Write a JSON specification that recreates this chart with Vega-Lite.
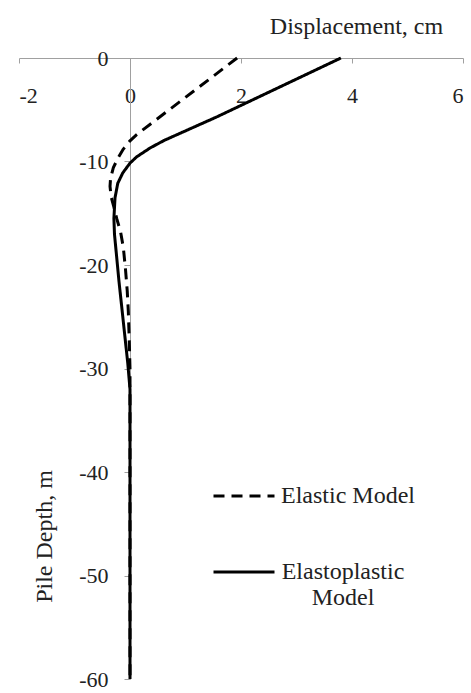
{
  "$schema": "https://vega.github.io/schema/vega-lite/v6.json",
  "width": 444,
  "height": 621,
  "autosize": {"type": "none"},
  "padding": {"left": 19, "top": 58, "right": 8, "bottom": 14},
  "background": "white",
  "config": {"view": {"stroke": null}, "font": "Liberation Serif"},
  "data": {
    "values": [
      {"model": "Elastic Model", "disp": 1.93, "depth": 0},
      {"model": "Elastic Model", "disp": 0.12, "depth": -7.4},
      {"model": "Elastic Model", "disp": 0.0, "depth": -8.0},
      {"model": "Elastic Model", "disp": -0.12, "depth": -8.8},
      {"model": "Elastic Model", "disp": -0.22, "depth": -9.7},
      {"model": "Elastic Model", "disp": -0.3, "depth": -10.6},
      {"model": "Elastic Model", "disp": -0.35, "depth": -11.6},
      {"model": "Elastic Model", "disp": -0.36, "depth": -12.4},
      {"model": "Elastic Model", "disp": -0.34, "depth": -13.4},
      {"model": "Elastic Model", "disp": -0.29, "depth": -14.4},
      {"model": "Elastic Model", "disp": -0.24, "depth": -15.5},
      {"model": "Elastic Model", "disp": -0.17, "depth": -16.8},
      {"model": "Elastic Model", "disp": -0.12, "depth": -18.3},
      {"model": "Elastic Model", "disp": -0.08, "depth": -20.5},
      {"model": "Elastic Model", "disp": -0.05, "depth": -22.5},
      {"model": "Elastic Model", "disp": -0.03, "depth": -24.5},
      {"model": "Elastic Model", "disp": -0.015, "depth": -27},
      {"model": "Elastic Model", "disp": 0.0, "depth": -30},
      {"model": "Elastic Model", "disp": 0.0, "depth": -60},
      {"model": "Elastoplastic Model", "disp": 3.8, "depth": 0},
      {"model": "Elastoplastic Model", "disp": 1.56, "depth": -5.7},
      {"model": "Elastoplastic Model", "disp": 0.95, "depth": -7.16},
      {"model": "Elastoplastic Model", "disp": 0.62, "depth": -7.95},
      {"model": "Elastoplastic Model", "disp": 0.36, "depth": -8.7},
      {"model": "Elastoplastic Model", "disp": 0.12, "depth": -9.55},
      {"model": "Elastoplastic Model", "disp": 0.0, "depth": -10.16},
      {"model": "Elastoplastic Model", "disp": -0.13, "depth": -11.1},
      {"model": "Elastoplastic Model", "disp": -0.22, "depth": -12.1},
      {"model": "Elastoplastic Model", "disp": -0.27, "depth": -13.5},
      {"model": "Elastoplastic Model", "disp": -0.29, "depth": -15.5},
      {"model": "Elastoplastic Model", "disp": -0.28, "depth": -17},
      {"model": "Elastoplastic Model", "disp": -0.2, "depth": -21.5},
      {"model": "Elastoplastic Model", "disp": -0.1, "depth": -26.5},
      {"model": "Elastoplastic Model", "disp": -0.04, "depth": -29.5},
      {"model": "Elastoplastic Model", "disp": 0.0, "depth": -32},
      {"model": "Elastoplastic Model", "disp": 0.0, "depth": -60}
    ]
  },
  "mark": {"type": "line", "color": "black", "strokeWidth": 3, "interpolate": "linear", "strokeJoin": "round"},
  "encoding": {
    "x": {
      "field": "disp", "type": "quantitative",
      "scale": {"domain": [-2, 6], "nice": false, "zero": false},
      "axis": {
        "orient": "bottom", "offset": -621,
        "values": [-2, 0, 2, 4, 6],
        "labelExpr": "toString(datum.value)",
        "grid": false,
        "domainColor": "#a0a0a0", "tickColor": "#a0a0a0", "tickSize": 5,
        "labelFontSize": 22, "labelColor": "#222", "labelPadding": 22,
        "labelFont": "Liberation Serif",
        "title": "Displacement, cm",
        "titleFont": "Liberation Serif", "titleFontSize": 24, "titleFontWeight": "normal",
        "titleColor": "#222",
        "titleAnchor": null, "titleAlign": "center", "titleBaseline": "alphabetic",
        "titleX": 337, "titleY": -25
      }
    },
    "y": {
      "field": "depth", "type": "quantitative",
      "scale": {"domain": [-60, 0], "nice": false, "zero": false},
      "axis": {
        "orient": "left", "offset": -111,
        "values": [0, -10, -20, -30, -40, -50, -60],
        "labelExpr": "toString(datum.value)",
        "grid": false,
        "domainColor": "#a0a0a0", "tickColor": "#a0a0a0", "tickSize": 6,
        "labelFontSize": 22, "labelColor": "#222", "labelPadding": 16,
        "labelFont": "Liberation Serif",
        "title": "Pile Depth, m",
        "titleFont": "Liberation Serif", "titleFontSize": 24, "titleFontWeight": "normal",
        "titleColor": "#222",
        "titleAngle": -90, "titleAlign": "center", "titleBaseline": "alphabetic",
        "titleX": -79, "titleY": 478
      }
    },
    "strokeDash": {
      "field": "model", "type": "nominal",
      "scale": {"domain": ["Elastic Model", "Elastoplastic Model"], "range": [[11, 7], [1, 0]]},
      "legend": {
        "orient": "none", "legendX": 193, "legendY": 406,
        "title": null, "padding": 0,
        "symbolType": "stroke", "symbolSize": 3721, "symbolStrokeWidth": 3,
        "symbolStrokeColor": "black",
        "labelFont": "Liberation Serif", "labelFontSize": 24, "labelColor": "#222",
        "labelLimit": 300, "rowPadding": 32, "labelLineHeight": 32,
        "labelExpr": "datum.label == 'Elastoplastic Model' ? ['Elastoplastic', 'Model'] : datum.label",
        "labelBaseline": "middle",
        "labelAlign": {"expr": "datum.label == 'Elastoplastic Model' ? 'center' : 'left'"},
        "labelOffset": {"expr": "datum.label == 'Elastoplastic Model' ? 67 : 5"}
      }
    },
    "order": {"field": "depth", "type": "quantitative", "sort": "descending"}
  }
}
